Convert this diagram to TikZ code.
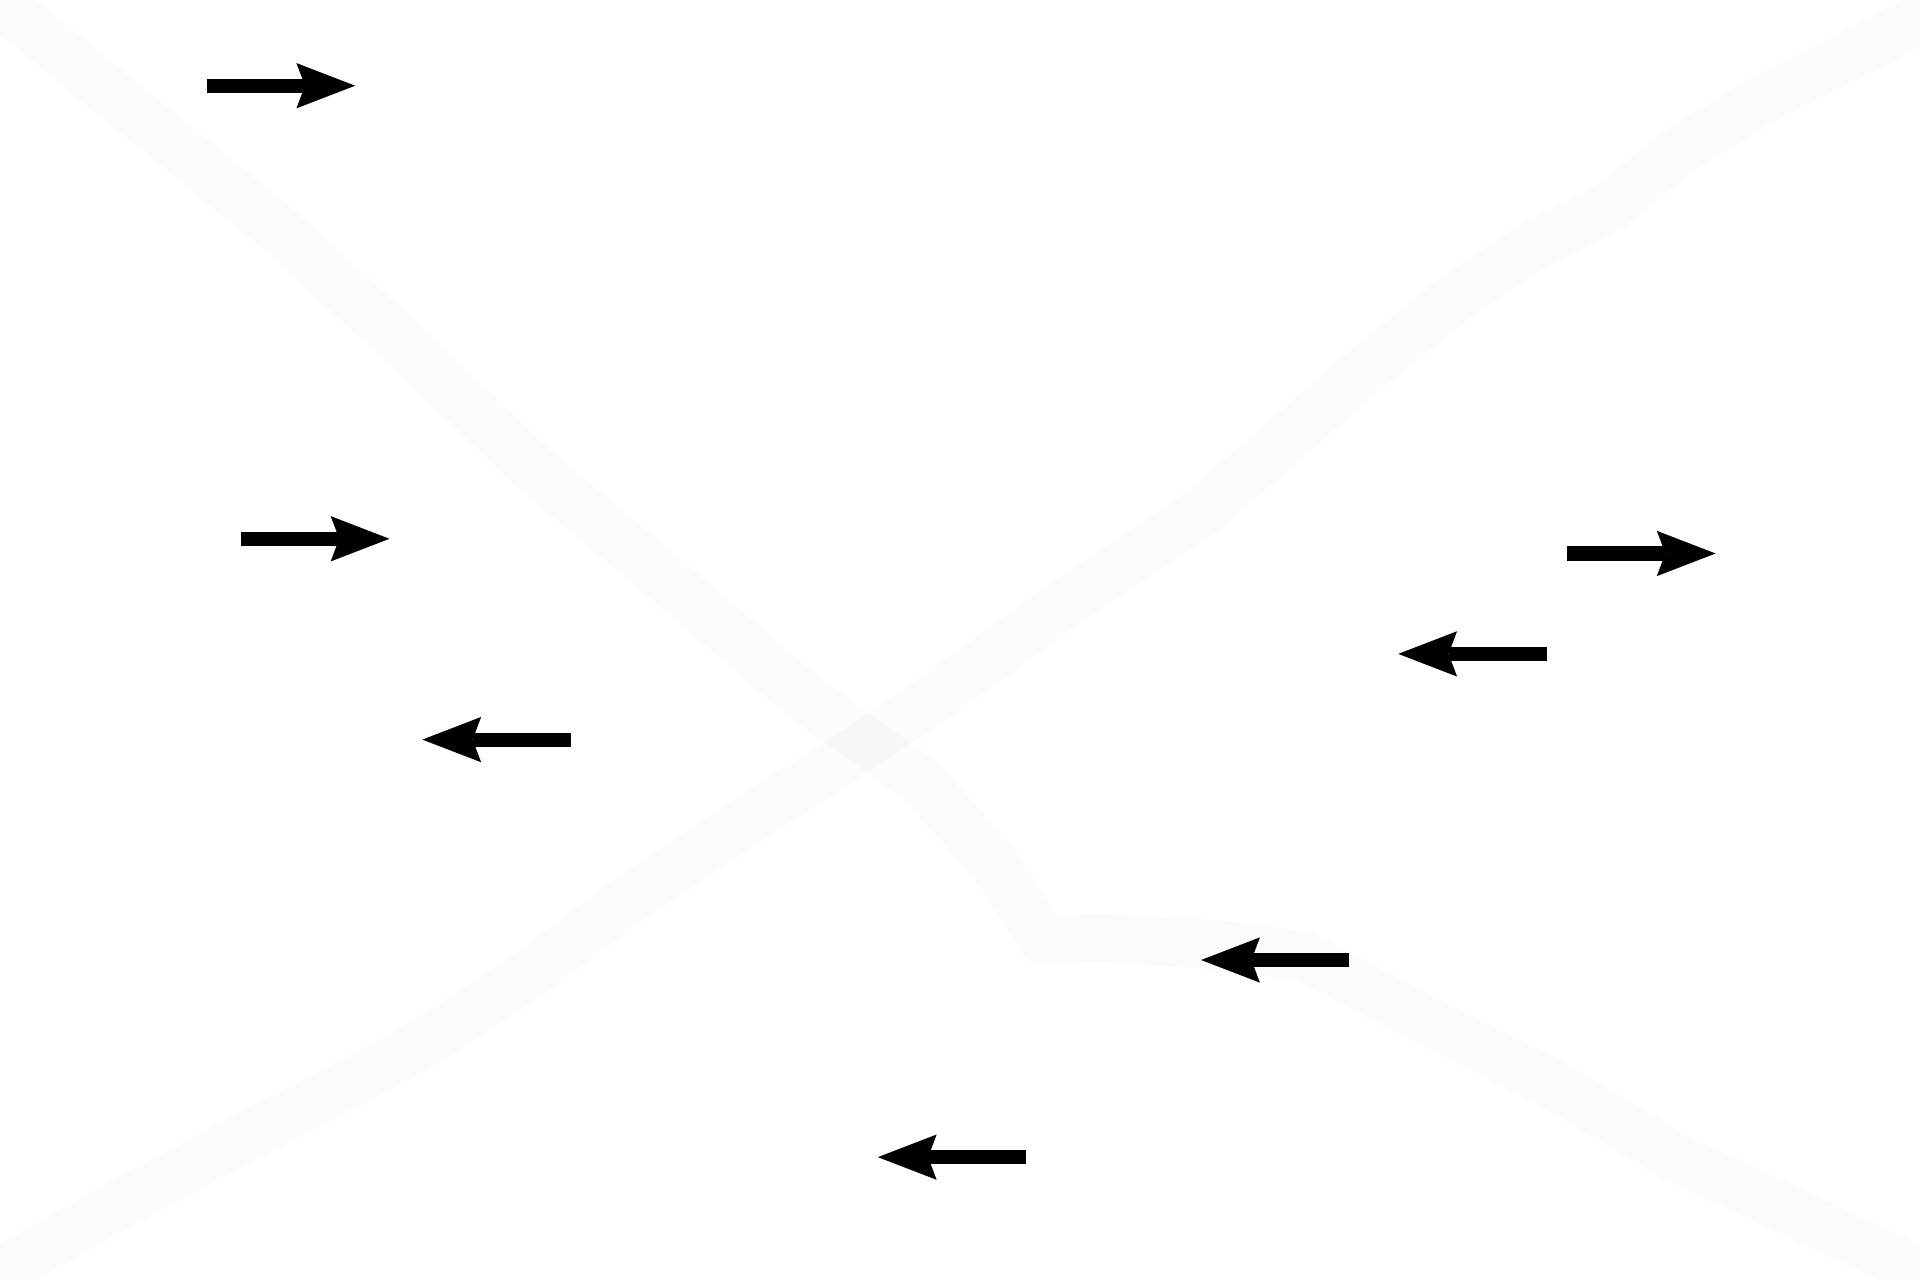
\documentclass[tikz,border=0pt]{standalone}
\usetikzlibrary{arrows.meta,positioning}

\tikzset{
  flow/.style={line width=0.115cm,
    -{Stealth[length=0.48cm,width=0.37cm,inset=0.07cm,line width=0pt]}},
  band/.style={line width=0.40cm,black,opacity=0.016,line join=round}
}

\begin{document}
\begin{tikzpicture}[x=0.01cm,y=-0.01cm,node distance=1.21cm]

\useasboundingbox (0,0) rectangle (1568,1045);
\clip (0,0) rectangle (1568,1045);

% faint bands behind
\draw[band] (-30,-22) -- (226,186) -- (332,283) -- (434,381) -- (532,463)
  -- (660,572) -- (751,637) -- (812,705) -- (852,768) -- (900,766)
  -- (1000,772) -- (1065,781) -- (1155,828) -- (1262,882) -- (1368,945)
  -- (1496,1005) -- (1600,1054);
\draw[band] (-30,1056) -- (104,980) -- (217,920) -- (333,860) -- (429,798)
  -- (513,735) -- (637,653) -- (735,590) -- (874,490) -- (980,419)
  -- (1042,366) -- (1114,303) -- (1191,241) -- (1248,203) -- (1315,169)
  -- (1368,125) -- (1435,84) -- (1526,38) -- (1600,-3);

\coordinate (s1) at (169,70);
\coordinate[right=of s1] (e1);
\coordinate (s2) at (197,440);
\coordinate[right=of s2] (e2);
\coordinate (s3) at (466,604);
\coordinate[left=of s3] (e3);
\coordinate (s4) at (1280,452);
\coordinate[right=of s4] (e4);
\coordinate (s5) at (1263,534);
\coordinate[left=of s5] (e5);
\coordinate (s6) at (1102,784);
\coordinate[left=of s6] (e6);
\coordinate (s7) at (838,945);
\coordinate[left=of s7] (e7);

\foreach \i in {1,...,7}
  \draw[flow] (s\i) -- (e\i);

\end{tikzpicture}
\end{document}
